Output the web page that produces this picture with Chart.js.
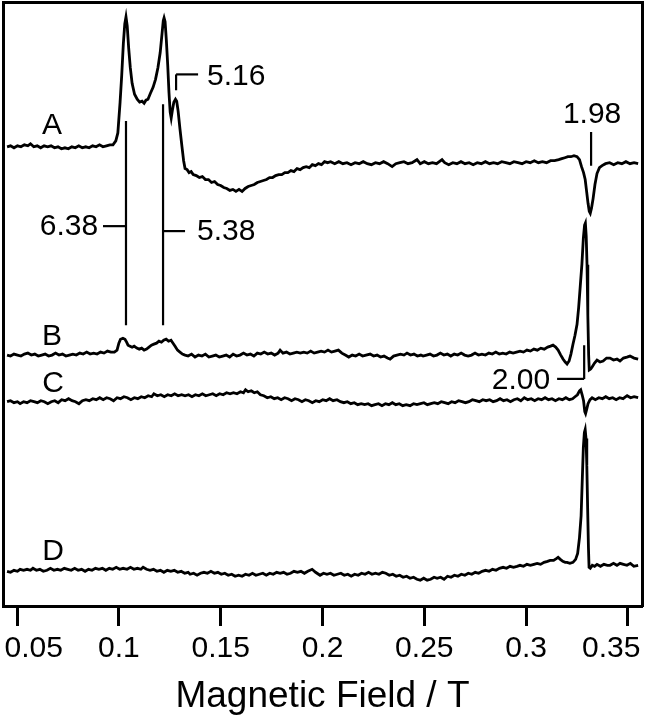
<!DOCTYPE html>
<html>
<head>
<meta charset="utf-8">
<title>EPR spectra A-D</title>
<script src="https://cdn.jsdelivr.net/npm/chart.js@4.4.1/dist/chart.umd.min.js"></script>
<style>
  html, body { margin: 0; padding: 0; background: #fff; }
  #wrap { width: 647px; height: 719px; }
</style>
</head>
<body>
<div id="wrap"><canvas id="epr" width="647" height="719"></canvas></div>
<script>
/* =========================
   DATA (field in T, signal in arbitrary units above each trace baseline)
========================= */

const tickValues = [0.05, 0.1, 0.15, 0.2, 0.25, 0.3, 0.35];
const tickLabels = ["0.05", "0.1", "0.15", "0.2", "0.25", "0.3", "0.35"];
const fieldRange = [0.0431, 0.3569];
const intensityRange = [0, 609];

const traceNames = ["A", "B", "C", "D"];
const traceOffsets = [463, 253, 207, 34];

const traceA = [
  [0.0451, 0], [0.0468, 1], [0.0485, -1], [0.0502, 1], [0.0519, 0], [0.0536, 2], [0.0553, 1], [0.0566, 3],
  [0.0582, 0], [0.0599, 1], [0.0616, -1], [0.0633, 1], [0.0650, 0], [0.0667, 1], [0.0684, -1], [0.0701, 0],
  [0.0718, -2], [0.0735, -1], [0.0752, -2], [0.0769, 0], [0.0786, -1], [0.0803, 1], [0.0820, -1], [0.0837, 0],
  [0.0854, -1], [0.0871, 1], [0.0888, 0], [0.0905, 2], [0.0922, 0], [0.0939, 1], [0.0956, 2], [0.0971, 2],
  [0.0985, 6], [0.0995, 14], [0.1006, 45], [0.1014, 72], [0.1022, 104], [0.1029, 124], [0.1035, 131],
  [0.1041, 122], [0.1048, 100], [0.1056, 80], [0.1065, 64], [0.1077, 53], [0.1090, 48], [0.1102, 45],
  [0.1114, 46], [0.1124, 44], [0.1133, 47], [0.1143, 48], [0.1155, 54], [0.1168, 60], [0.1180, 68],
  [0.1192, 80], [0.1203, 95], [0.1212, 114], [0.1218, 127], [0.1222, 130], [0.1227, 126], [0.1233, 108],
  [0.1240, 82], [0.1246, 55], [0.1252, 35], [0.1257, 29], [0.1263, 37], [0.1270, 45], [0.1278, 48],
  [0.1284, 46], [0.1291, 36], [0.1300, 18], [0.1310, 0], [0.1318, -14], [0.1325, -22], [0.1335, -23],
  [0.1345, -26], [0.1355, -25], [0.1365, -28], [0.1380, -29], [0.1395, -31], [0.1410, -30], [0.1425, -33],
  [0.1440, -33], [0.1455, -36], [0.1470, -35], [0.1485, -38], [0.1500, -39], [0.1515, -41], [0.1530, -42],
  [0.1545, -44], [0.1560, -43], [0.1575, -45], [0.1590, -43], [0.1605, -45], [0.1620, -42], [0.1635, -40],
  [0.1650, -39], [0.1665, -38], [0.1680, -36], [0.1695, -35], [0.1710, -34], [0.1725, -33], [0.1740, -31],
  [0.1755, -31], [0.1770, -29], [0.1785, -28], [0.1800, -28], [0.1815, -26], [0.1830, -26], [0.1845, -24],
  [0.1860, -25], [0.1875, -22], [0.1890, -23], [0.1905, -21], [0.1920, -20], [0.1935, -21], [0.1950, -18],
  [0.1965, -19], [0.1980, -17], [0.1995, -18], [0.2010, -15], [0.2025, -16], [0.2040, -15],
  [0.2060, -17], [0.2080, -15], [0.2100, -17], [0.2120, -16], [0.2140, -18], [0.2160, -16], [0.2180, -17],
  [0.2200, -15], [0.2220, -17], [0.2240, -18], [0.2260, -16], [0.2280, -17], [0.2300, -15], [0.2320, -17],
  [0.2342, -20], [0.2360, -17], [0.2380, -16], [0.2400, -15], [0.2420, -17], [0.2440, -16], [0.2464, -13],
  [0.2480, -17], [0.2500, -15], [0.2520, -17], [0.2540, -16], [0.2560, -17], [0.2587, -13], [0.2600, -16],
  [0.2620, -18], [0.2640, -16], [0.2660, -17], [0.2680, -15], [0.2700, -17], [0.2720, -16], [0.2740, -18],
  [0.2760, -16], [0.2780, -17], [0.2800, -15], [0.2820, -17], [0.2840, -16], [0.2860, -17], [0.2880, -15],
  [0.2900, -16], [0.2920, -17], [0.2940, -15], [0.2960, -16], [0.2980, -17], [0.3000, -15], [0.3020, -16],
  [0.3040, -14], [0.3060, -16], [0.3080, -15], [0.3100, -16], [0.3120, -14], [0.3140, -14], [0.3160, -13],
  [0.3175, -12], [0.3190, -11], [0.3205, -10], [0.3220, -10], [0.3235, -9], [0.3250, -10], [0.3262, -13],
  [0.3272, -20], [0.3282, -26], [0.3290, -33], [0.3297, -45], [0.3304, -57], [0.3310, -65], [0.3315, -67],
  [0.3321, -62], [0.3329, -52], [0.3338, -38], [0.3348, -27], [0.3360, -21], [0.3373, -19], [0.3390, -17],
  [0.3410, -16], [0.3430, -18], [0.3450, -16], [0.3470, -17], [0.3490, -15], [0.3510, -17], [0.3530, -16],
  [0.3550, -17]
];

const traceB = [
  [0.0451, 0], [0.0468, -1], [0.0485, 1], [0.0502, 0], [0.0519, -1], [0.0536, 1], [0.0553, 2], [0.0570, 0],
  [0.0587, 1], [0.0604, -1], [0.0621, 0], [0.0638, 1], [0.0655, -1], [0.0672, 0], [0.0689, 2], [0.0706, 0],
  [0.0723, 1], [0.0740, -1], [0.0757, 0], [0.0774, 1], [0.0791, 0], [0.0808, 2], [0.0825, 1], [0.0842, 3],
  [0.0859, 1], [0.0876, 2], [0.0893, 1], [0.0910, 3], [0.0927, 2], [0.0944, 4], [0.0961, 3], [0.0978, 3],
  [0.0991, 5], [0.1000, 12], [0.1008, 16], [0.1020, 17], [0.1030, 16], [0.1038, 13], [0.1045, 10],
  [0.1055, 9], [0.1065, 8], [0.1075, 9], [0.1088, 7], [0.1100, 6], [0.1112, 7], [0.1124, 5], [0.1136, 6],
  [0.1148, 8], [0.1160, 10], [0.1172, 11], [0.1185, 12], [0.1197, 14], [0.1209, 13], [0.1220, 15],
  [0.1232, 16], [0.1244, 14], [0.1256, 15], [0.1266, 12], [0.1276, 9], [0.1288, 5], [0.1300, 3],
  [0.1312, 1], [0.1325, 0], [0.1340, -1], [0.1357, 1], [0.1374, -2], [0.1391, 0], [0.1408, -1],
  [0.1425, 1], [0.1442, -2], [0.1459, -1], [0.1476, 0], [0.1493, -2], [0.1510, -1], [0.1527, 0],
  [0.1544, -2], [0.1561, 1], [0.1578, -1], [0.1595, 0], [0.1612, 2], [0.1629, 0], [0.1646, 1],
  [0.1663, -1], [0.1680, 2], [0.1697, 1], [0.1714, 3], [0.1731, 1], [0.1748, 2], [0.1765, 0], [0.1782, 2],
  [0.1792, 5], [0.1806, 2], [0.1823, 3], [0.1840, 1], [0.1857, 2], [0.1874, 3], [0.1891, 2], [0.1908, 3],
  [0.1925, 2], [0.1942, 4], [0.1959, 2], [0.1976, 3], [0.1993, 4], [0.2010, 3], [0.2027, 5], [0.2044, 3],
  [0.2061, 4], [0.2078, 5], [0.2095, 2], [0.2112, 0], [0.2129, -2], [0.2146, 0], [0.2163, -1], [0.2180, 1],
  [0.2197, -1], [0.2214, 0], [0.2234, 1], [0.2251, -1], [0.2268, 0], [0.2285, -2], [0.2302, -1],
  [0.2319, -3], [0.2332, -4], [0.2349, -1], [0.2366, 0], [0.2383, 1], [0.2400, 0], [0.2415, 2], [0.2432, 0],
  [0.2449, 1], [0.2466, -1], [0.2483, 0], [0.2494, -1], [0.2511, 0], [0.2528, 1], [0.2545, -1], [0.2562, 0],
  [0.2579, 2], [0.2596, 0], [0.2613, 1], [0.2630, -1], [0.2647, 1], [0.2664, 0], [0.2681, 2], [0.2698, 0],
  [0.2715, -1], [0.2732, 0], [0.2749, 2], [0.2766, 0], [0.2783, 1], [0.2800, 0], [0.2817, 2], [0.2834, 1],
  [0.2851, 3], [0.2868, 1], [0.2885, 2], [0.2902, 1], [0.2919, 3], [0.2936, 2], [0.2953, 3], [0.2970, 4],
  [0.2987, 3], [0.3004, 5], [0.3021, 4], [0.3038, 6], [0.3055, 5], [0.3072, 7], [0.3089, 6], [0.3106, 8],
  [0.3120, 9], [0.3132, 10], [0.3145, 8], [0.3157, 5], [0.3170, 0], [0.3181, -4], [0.3192, -7],
  [0.3201, -9], [0.3211, -6], [0.3220, 1], [0.3230, 11], [0.3240, 20], [0.3250, 31], [0.3258, 48],
  [0.3266, 70], [0.3274, 92], [0.3281, 118], [0.3287, 131], [0.3291, 133], [0.3295, 120], [0.3299, 91],
  [0.3303, 40], [0.3307, 0], [0.3310, -15], [0.3317, -14], [0.3324, -12], [0.3336, -8], [0.3348, -5],
  [0.3363, -7], [0.3378, -6], [0.3395, -3], [0.3412, -3], [0.3429, -5], [0.3446, -4], [0.3461, -6],
  [0.3478, -3], [0.3495, -2], [0.3510, -1], [0.3530, -3], [0.3550, -4]
];

const traceC = [
  [0.0451, -1], [0.0468, 0], [0.0485, -2], [0.0502, -1], [0.0515, -3], [0.0532, -1], [0.0549, -2],
  [0.0566, 0], [0.0583, -1], [0.0600, -2], [0.0617, 0], [0.0634, -1], [0.0651, -3], [0.0668, -1],
  [0.0685, 0], [0.0702, -2], [0.0719, 1], [0.0736, 0], [0.0753, 2], [0.0770, 0], [0.0787, -1],
  [0.0804, -3], [0.0821, 0], [0.0838, 1], [0.0855, 0], [0.0872, 2], [0.0889, 1], [0.0906, 3], [0.0923, 1],
  [0.0940, 3], [0.0957, 2], [0.0974, 0], [0.0991, 3], [0.1008, 2], [0.1025, 4], [0.1042, 3], [0.1059, 1],
  [0.1076, 3], [0.1093, 2], [0.1110, 4], [0.1127, 3], [0.1144, 5], [0.1161, 4], [0.1172, 7], [0.1189, 5],
  [0.1206, 6], [0.1223, 4], [0.1240, 6], [0.1257, 5], [0.1274, 7], [0.1291, 5], [0.1308, 6], [0.1325, 5],
  [0.1342, 6], [0.1359, 4], [0.1376, 6], [0.1393, 5], [0.1410, 7], [0.1427, 5], [0.1444, 6], [0.1461, 7],
  [0.1478, 5], [0.1495, 7], [0.1512, 6], [0.1529, 8], [0.1546, 7], [0.1563, 8], [0.1580, 7], [0.1597, 9],
  [0.1612, 8], [0.1622, 11], [0.1635, 9], [0.1650, 10], [0.1665, 8], [0.1680, 9], [0.1695, 6],
  [0.1712, 5], [0.1729, 3], [0.1746, 4], [0.1763, 2], [0.1780, 3], [0.1797, 1], [0.1814, 3], [0.1831, 2],
  [0.1848, 0], [0.1865, 2], [0.1882, 1], [0.1899, -1], [0.1916, 1], [0.1933, 0], [0.1950, -2], [0.1967, 0],
  [0.1984, -1], [0.2001, 1], [0.2018, 0], [0.2035, 2], [0.2052, 0], [0.2071, 1], [0.2088, -1],
  [0.2105, -2], [0.2122, -1], [0.2139, -3], [0.2156, -2], [0.2173, -4], [0.2190, -3], [0.2207, -4],
  [0.2224, -3], [0.2241, -5], [0.2258, -4], [0.2275, -3], [0.2292, -5], [0.2309, -3], [0.2326, -4],
  [0.2343, -2], [0.2360, -4], [0.2377, -3], [0.2394, -5], [0.2411, -4], [0.2430, -5], [0.2447, -3],
  [0.2464, -4], [0.2481, -3], [0.2498, -2], [0.2515, -4], [0.2532, -3], [0.2549, -2], [0.2566, -3],
  [0.2583, -1], [0.2600, -2], [0.2617, -3], [0.2634, -1], [0.2651, -2], [0.2668, 0], [0.2685, -1],
  [0.2702, -2], [0.2719, -1], [0.2736, 1], [0.2753, 0], [0.2770, -1], [0.2787, 1], [0.2804, 0], [0.2821, 1],
  [0.2838, -1], [0.2855, 0], [0.2872, 2], [0.2889, 0], [0.2906, 1], [0.2923, -1], [0.2940, 1], [0.2957, 2],
  [0.2974, 0], [0.2991, 3], [0.3008, 1], [0.3025, 2], [0.3042, 0], [0.3059, 2], [0.3076, 1], [0.3093, 3],
  [0.3110, 1], [0.3127, 2], [0.3144, 0], [0.3161, 2], [0.3178, 1], [0.3195, 3], [0.3212, 1], [0.3228, 2],
  [0.3240, 4], [0.3252, 6], [0.3262, 10], [0.3268, 11], [0.3275, 6], [0.3282, 0], [0.3288, -11],
  [0.3292, -13], [0.3297, -9], [0.3304, -3], [0.3314, 1], [0.3324, 3], [0.3340, 1], [0.3357, 3],
  [0.3374, 2], [0.3391, 4], [0.3408, 2], [0.3425, 3], [0.3442, 1], [0.3459, 3], [0.3476, 2], [0.3496, 5],
  [0.3513, 3], [0.3530, 4], [0.3550, 3]
];

const traceD = [
  [0.0451, 1], [0.0468, 0], [0.0485, 2], [0.0502, 1], [0.0515, 3], [0.0532, 2], [0.0549, 3], [0.0566, 2],
  [0.0578, 4], [0.0595, 2], [0.0612, 3], [0.0629, 1], [0.0647, 2], [0.0664, 4], [0.0681, 2], [0.0698, 3],
  [0.0715, 2], [0.0732, 4], [0.0749, 3], [0.0766, 2], [0.0783, 4], [0.0800, 2], [0.0817, 3], [0.0834, 1],
  [0.0851, 3], [0.0868, 2], [0.0885, 4], [0.0902, 3], [0.0919, 4], [0.0936, 2], [0.0953, 4], [0.0970, 3],
  [0.0987, 5], [0.1004, 3], [0.1021, 4], [0.1040, 3], [0.1057, 5], [0.1074, 3], [0.1091, 4], [0.1108, 3],
  [0.1119, 5], [0.1136, 3], [0.1153, 2], [0.1170, 3], [0.1187, 1], [0.1204, 2], [0.1221, 0], [0.1238, 2],
  [0.1255, 1], [0.1272, 2], [0.1289, 0], [0.1306, 1], [0.1323, -1], [0.1340, 0], [0.1350, -2],
  [0.1367, -1], [0.1384, -3], [0.1401, -1], [0.1418, 0], [0.1435, -1], [0.1452, 1], [0.1469, -1],
  [0.1486, 0], [0.1503, -2], [0.1520, -1], [0.1537, -3], [0.1554, -2], [0.1571, -4], [0.1588, -3],
  [0.1605, -4], [0.1622, -2], [0.1639, -3], [0.1656, -1], [0.1673, -3], [0.1690, -2], [0.1707, -1],
  [0.1724, -3], [0.1741, -1], [0.1758, -2], [0.1775, 0], [0.1792, -1], [0.1809, 0], [0.1826, -2],
  [0.1843, -1], [0.1860, 1], [0.1877, 0], [0.1894, 1], [0.1911, -1], [0.1928, 1], [0.1949, 3], [0.1966, 0],
  [0.1988, -3], [0.2005, -1], [0.2022, -2], [0.2039, -1], [0.2056, -3], [0.2073, -2], [0.2090, -1],
  [0.2107, -3], [0.2124, -2], [0.2141, -4], [0.2158, -2], [0.2175, -3], [0.2192, -1], [0.2209, -2],
  [0.2226, 0], [0.2243, -2], [0.2260, -1], [0.2277, -2], [0.2294, 0], [0.2311, -1], [0.2328, -3],
  [0.2345, -2], [0.2362, -4], [0.2379, -3], [0.2396, -5], [0.2413, -4], [0.2430, -6], [0.2447, -5],
  [0.2464, -7], [0.2480, -8], [0.2497, -6], [0.2514, -8], [0.2531, -7], [0.2548, -5], [0.2563, -6],
  [0.2580, -5], [0.2597, -7], [0.2614, -4], [0.2631, -5], [0.2648, -3], [0.2665, -4], [0.2682, -2],
  [0.2699, -3], [0.2716, -1], [0.2733, -2], [0.2750, 0], [0.2767, -1], [0.2784, 1], [0.2801, 2],
  [0.2818, 1], [0.2835, 3], [0.2852, 2], [0.2869, 4], [0.2887, 5], [0.2904, 4], [0.2921, 6], [0.2938, 5],
  [0.2955, 6], [0.2970, 7], [0.2987, 6], [0.3004, 8], [0.3021, 7], [0.3038, 8], [0.3054, 9], [0.3071, 8],
  [0.3088, 10], [0.3105, 11], [0.3118, 12], [0.3135, 12], [0.3150, 14], [0.3157, 15], [0.3168, 13],
  [0.3180, 11], [0.3192, 10], [0.3201, 10], [0.3215, 9], [0.3230, 10], [0.3243, 13], [0.3253, 19],
  [0.3262, 35], [0.3270, 57], [0.3276, 95], [0.3281, 126], [0.3286, 141], [0.3290, 144], [0.3294, 135],
  [0.3298, 108], [0.3302, 65], [0.3306, 25], [0.3309, 5], [0.3315, 4], [0.3325, 7], [0.3336, 6],
  [0.3348, 8], [0.3365, 6], [0.3382, 8], [0.3399, 7], [0.3412, 7], [0.3429, 9], [0.3446, 7], [0.3461, 9],
  [0.3478, 8], [0.3495, 7], [0.3512, 9], [0.3529, 6], [0.3550, 7]
];

const traces = [traceA, traceB, traceC, traceD];

// g-value marker lines, in field / intensity units
const gMarkers = [
  { g: "6.38", lines: [[[0.1035, 489], [0.1035, 283]], [[0.0922, 383], [0.1035, 383]]] },
  { g: "5.38", lines: [[[0.1217, 506], [0.1217, 283]], [[0.1217, 378], [0.1325, 378]]] },
  { g: "5.16", lines: [[[0.1281, 520], [0.1281, 536]], [[0.1281, 536], [0.1389, 536]]] },
  { g: "1.98", lines: [[[0.3319, 478], [0.3319, 444]]] },
  { g: "2.00", lines: [[[0.3285, 263], [0.3285, 229]], [[0.3152, 229], [0.3285, 229]]] }
];

// text anchors: [text, field, intensity, align]
const textLabels = [
  ["A", 0.0672, 484, "center"], ["B", 0.0672, 271, "center"],
  ["C", 0.0677, 224, "center"], ["D", 0.0677, 55, "center"],
  ["6.38", 0.0898, 382, "right"], ["5.38", 0.1384, 377, "left"],
  ["5.16", 0.1433, 534, "left"], ["1.98", 0.3324, 495, "center"],
  ["2.00", 0.3118, 227, "right"]
];

/* =========================
   CHART
========================= */

const FONT = "'Liberation Sans', Arial, Helvetica, sans-serif";
const INK = "#000";

const datasets = [];
traces.forEach((tr, i) => {
  datasets.push({
    label: traceNames[i],
    data: tr.map(p => ({ x: p[0], y: traceOffsets[i] + p[1] })),
    borderColor: INK,
    borderWidth: 2.8,
    pointRadius: 0,
    tension: 0
  });
});
gMarkers.forEach(m => {
  m.lines.forEach(seg => {
    datasets.push({
      label: "g " + m.g,
      data: seg.map(p => ({ x: p[0], y: p[1] })),
      borderColor: INK,
      borderWidth: 2.2,
      pointRadius: 0,
      tension: 0
    });
  });
});

const textPlugin = {
  id: "textLabels",
  afterDatasetsDraw(chart) {
    const { ctx, scales: { x, y } } = chart;
    ctx.save();
    ctx.fillStyle = INK;
    ctx.font = "30px " + FONT;
    ctx.textBaseline = "middle";
    textLabels.forEach(([t, fx, fy, align]) => {
      ctx.textAlign = align;
      ctx.fillText(t, x.getPixelForValue(fx), y.getPixelForValue(fy));
    });
    ctx.restore();
  }
};

const frameAxis = (position) => ({
  type: "linear",
  position: position,
  display: true,
  min: position === "top" ? fieldRange[0] : intensityRange[0],
  max: position === "top" ? fieldRange[1] : intensityRange[1],
  ticks: { display: false },
  grid: { display: false, drawTicks: false },
  border: { display: true, color: INK, width: 3 }
});

new Chart(document.getElementById("epr"), {
  type: "line",
  data: { datasets },
  options: {
    responsive: false,
    animation: false,
    events: [],
    layout: { padding: { left: 3, right: 5, top: 2, bottom: 0 } },
    plugins: { legend: { display: false }, tooltip: { enabled: false } },
    scales: {
      x: {
        type: "linear",
        position: "bottom",
        min: fieldRange[0],
        max: fieldRange[1],
        afterBuildTicks: axis => { axis.ticks = tickValues.map(v => ({ value: v })); },
        afterFit: axis => { axis.paddingLeft = 0; axis.paddingRight = 0; },
        ticks: {
          color: INK,
          padding: 5,
          maxRotation: 0,
          autoSkip: false,
          font: { family: FONT, size: 30, lineHeight: 1.2 },
          callback: (v, i) => {
            if (i === 0) return "    " + tickLabels[i];
            if (i === tickLabels.length - 1) return tickLabels[i] + "    ";
            return tickLabels[i];
          }
        },
        grid: {
          display: true,
          drawOnChartArea: false,
          drawTicks: true,
          tickLength: 20,
          tickWidth: 3,
          tickColor: INK
        },
        border: { display: true, color: INK, width: 3 },
        title: {
          display: true,
          text: "Magnetic Field / T",
          color: INK,
          font: { family: FONT, size: 37, lineHeight: 1.2 },
          padding: { top: 2.6, bottom: 0 }
        }
      },
      x2: frameAxis("top"),
      y: frameAxis("left"),
      y2: frameAxis("right")
    }
  },
  plugins: [textPlugin]
});
</script>
</body>
</html>
